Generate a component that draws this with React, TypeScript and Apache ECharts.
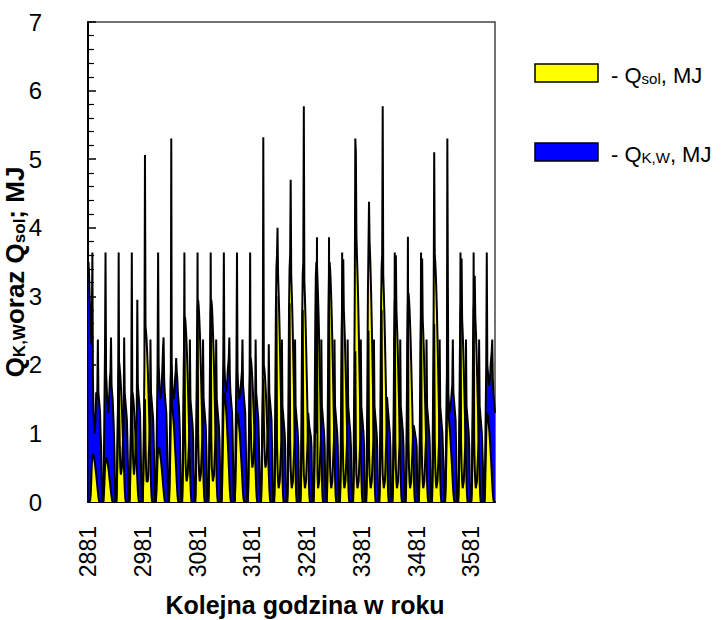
import React, { useEffect, useRef } from "react";
import * as echarts from "echarts";

// First hour shown on the axis (hour of the year)
const firstHour = 2881;

// Q_sol, MJ – solar gains, one row per day (hours 0..23)
const qSolDays: number[][] = [
  [0, 0, 0, 0, 0.02, 0.12, 0.32, 0.55, 0.66, 0.7, 0.68, 0.64, 0.6, 0.54, 0.47, 0.39, 0.32, 0.23, 0.15, 0.07, 0.02, 0, 0, 0],
  [0, 0, 0, 0, 0.02, 0.11, 0.29, 0.5, 0.62, 0.65, 0.63, 0.6, 0.55, 0.5, 0.44, 0.36, 0.29, 0.21, 0.14, 0.07, 0.02, 0, 0, 0],
  [0, 0, 0, 0, 0.06, 0.34, 0.9, 1.56, 1.9, 2.03, 1.94, 1.84, 1.7, 1.54, 1.34, 1.12, 0.9, 0.66, 0.42, 0.2, 0.06, 0, 0, 0],
  [0, 0, 0, 0, 0.05, 0.27, 0.72, 1.25, 1.52, 1.6, 1.55, 1.47, 1.36, 1.23, 1.07, 0.9, 0.72, 0.53, 0.34, 0.16, 0.05, 0, 0, 0],
  [0, 0, 0, 0, 0.08, 0.44, 1.15, 2.0, 5.06, 2.56, 2.48, 2.36, 2.18, 1.97, 1.72, 1.43, 1.15, 0.84, 0.54, 0.26, 0.08, 0, 0, 0],
  [0, 0, 0, 0, 0.02, 0.14, 0.36, 0.62, 0.76, 0.8, 0.78, 0.74, 0.68, 0.62, 0.54, 0.45, 0.36, 0.26, 0.17, 0.08, 0.02, 0, 0, 0],
  [0, 0, 0, 0, 0.04, 0.24, 0.63, 1.09, 5.3, 1.4, 1.36, 1.29, 1.19, 1.08, 0.94, 0.78, 0.63, 0.46, 0.29, 0.14, 0.04, 0, 0, 0],
  [0, 0, 0, 0, 0.08, 0.46, 1.22, 2.1, 2.57, 2.7, 2.62, 2.48, 2.3, 2.08, 1.81, 1.51, 1.22, 0.89, 0.57, 0.27, 0.08, 0, 0, 0],
  [0, 0, 0, 0, 0.09, 0.5, 1.33, 2.3, 2.8, 2.95, 2.86, 2.71, 2.51, 2.27, 1.98, 1.65, 1.33, 0.97, 0.62, 0.3, 0.09, 0, 0, 0],
  [0, 0, 0, 0, 0.09, 0.5, 1.33, 2.3, 2.8, 2.95, 2.88, 2.73, 2.5, 2.25, 1.96, 1.63, 1.3, 0.95, 0.6, 0.28, 0.08, 0, 0, 0],
  [0, 0, 0, 0, 0.05, 0.27, 0.72, 1.25, 1.52, 1.6, 1.55, 1.47, 1.36, 1.23, 1.07, 0.9, 0.72, 0.53, 0.34, 0.16, 0.05, 0, 0, 0],
  [0, 0, 0, 0, 0.04, 0.22, 0.59, 1.01, 1.24, 1.3, 1.26, 1.2, 1.1, 1.0, 0.87, 0.73, 0.59, 0.43, 0.27, 0.13, 0.04, 0, 0, 0],
  [0, 0, 0, 0, 0.06, 0.36, 0.95, 1.64, 2.0, 2.1, 2.04, 1.93, 1.79, 1.62, 1.41, 1.18, 0.95, 0.69, 0.44, 0.21, 0.06, 0, 0, 0],
  [0, 0, 0, 0, 0.06, 0.34, 0.9, 1.56, 5.32, 2.0, 1.94, 1.84, 1.7, 1.54, 1.34, 1.12, 0.9, 0.66, 0.42, 0.2, 0.06, 0, 0, 0],
  [0, 0, 0, 0, 0.11, 0.61, 1.62, 2.81, 3.42, 3.6, 4.0, 3.31, 3.06, 2.77, 2.41, 2.02, 1.62, 1.19, 0.76, 0.36, 0.11, 0, 0, 0],
  [0, 0, 0, 0, 0.11, 0.61, 1.62, 2.81, 3.42, 3.6, 4.7, 3.31, 3.06, 2.77, 2.41, 2.02, 1.62, 1.19, 0.76, 0.36, 0.11, 0, 0, 0],
  [0, 0, 0, 0, 0.1, 0.6, 1.58, 2.73, 3.33, 3.5, 5.77, 3.22, 2.98, 2.7, 2.35, 1.96, 1.58, 1.16, 0.74, 0.35, 0.1, 0, 0, 0],
  [0, 0, 0, 0, 0.1, 0.6, 1.58, 2.73, 3.33, 3.5, 3.45, 3.22, 2.98, 2.7, 2.35, 1.96, 1.58, 1.16, 0.74, 0.35, 0.1, 0, 0, 0],
  [0, 0, 0, 0, 0.1, 0.6, 1.58, 2.73, 3.33, 3.5, 3.4, 3.22, 2.98, 2.7, 2.35, 1.96, 1.58, 1.16, 0.74, 0.35, 0.1, 0, 0, 0],
  [0, 0, 0, 0, 0.09, 0.52, 1.37, 2.38, 2.9, 3.05, 3.54, 2.81, 2.59, 2.35, 2.04, 1.71, 1.37, 1.01, 0.64, 0.31, 0.09, 0, 0, 0],
  [0, 0, 0, 0, 0.12, 0.66, 1.76, 3.04, 5.3, 5.1, 3.9, 3.59, 3.32, 3.0, 2.61, 2.18, 1.76, 1.29, 0.82, 0.39, 0.12, 0, 0, 0],
  [0, 0, 0, 0, 0.12, 0.66, 1.76, 3.04, 3.7, 4.38, 3.8, 3.59, 3.32, 3.0, 2.61, 2.18, 1.76, 1.29, 0.82, 0.39, 0.12, 0, 0, 0],
  [0, 0, 0, 0, 0.11, 0.61, 1.62, 2.81, 3.42, 3.6, 5.77, 3.31, 3.06, 2.77, 2.41, 2.02, 1.62, 1.19, 0.76, 0.36, 0.11, 0, 0, 0],
  [0, 0, 0, 0, 0.09, 0.52, 1.37, 2.38, 2.9, 3.05, 3.6, 2.81, 2.59, 2.35, 2.04, 1.71, 1.37, 1.01, 0.64, 0.31, 0.09, 0, 0, 0],
  [0, 0, 0, 0, 0.09, 0.52, 1.37, 2.38, 2.9, 3.05, 2.96, 2.81, 2.59, 2.35, 2.04, 1.71, 1.37, 1.01, 0.64, 0.31, 0.09, 0, 0, 0],
  [0, 0, 0, 0, 0.09, 0.49, 1.31, 2.26, 2.76, 2.9, 3.55, 2.67, 2.47, 2.23, 1.94, 1.62, 1.31, 0.96, 0.61, 0.29, 0.09, 0, 0, 0],
  [0, 0, 0, 0, 0.11, 0.61, 1.62, 2.81, 5.1, 3.6, 3.49, 3.31, 3.06, 2.77, 2.41, 2.02, 1.62, 1.19, 0.76, 0.36, 0.11, 0, 0, 0],
  [0, 0, 0, 0, 0.04, 0.22, 0.59, 1.01, 5.3, 3.1, 1.3, 1.2, 1.1, 1.0, 0.87, 0.73, 0.59, 0.43, 0.27, 0.13, 0.04, 0, 0, 0],
  [0, 0, 0, 0, 0.09, 0.49, 1.31, 2.26, 2.76, 2.9, 3.55, 2.67, 2.47, 2.23, 1.94, 1.62, 1.31, 0.96, 0.61, 0.29, 0.09, 0, 0, 0],
  [0, 0, 0, 0, 0.09, 0.5, 1.33, 2.3, 2.8, 2.95, 3.3, 2.71, 2.51, 2.27, 1.98, 1.65, 1.33, 0.97, 0.62, 0.3, 0.09, 0, 0, 0],
  [0, 0, 0, 0, 0.04, 0.22, 0.59, 1.01, 1.24, 1.3, 1.26, 1.2, 1.1, 1.0, 0.87, 0.73, 0.59, 0.43, 0.27, 0.13, 0.04, 0, 0, 0],
];

// Q_K,W, MJ – heating, one row per day (hours 0..23)
const qKwDays: number[][] = [
  [3.4, 3.5, 3.3, 3.0, 2.8, 2.6, 2.3, 2.6, 3.64, 1.8, 1.3, 1.1, 1.0, 1.1, 1.3, 1.6, 1.5, 1.6, 2.37, 1.6, 1.5, 1.4, 1.3, 1.0],
  [0.8, 0.3, 0, 0, 0, 0.6, 1.4, 2.2, 3.64, 1.9, 1.7, 1.5, 1.4, 1.3, 1.4, 1.6, 1.8, 1.9, 2.4, 1.7, 1.6, 1.5, 1.3, 1.1],
  [0.8, 0.4, 0, 0, 0, 0.4, 0.9, 1.5, 3.64, 1.3, 0.8, 0.5, 0.4, 0.4, 0.5, 0.7, 0.9, 1.1, 2.4, 1.6, 1.5, 1.4, 1.3, 1.2],
  [0.9, 0.5, 0, 0, 0, 0.5, 1.0, 1.6, 3.64, 1.2, 0.7, 0.5, 0.4, 0.4, 0.6, 0.9, 1.1, 1.3, 2.95, 1.7, 1.6, 1.5, 1.4, 1.3],
  [0.9, 0.4, 0, 0, 0, 0.4, 0.8, 1.2, 1.5, 0.8, 0.5, 0.3, 0.3, 0.3, 0.4, 0.7, 0.9, 1.1, 2.37, 1.6, 1.5, 1.4, 1.3, 1.2],
  [0.9, 0.5, 0, 0, 0, 0.6, 1.3, 2.0, 3.64, 2.0, 1.8, 1.6, 1.5, 1.5, 1.6, 1.8, 2.0, 2.26, 2.4, 1.8, 1.6, 1.5, 1.4, 1.3],
  [1.0, 0.5, 0, 0, 0, 0.6, 1.2, 1.8, 2.0, 1.9, 1.7, 1.6, 1.5, 1.5, 1.6, 1.8, 1.9, 2.1, 1.9, 1.8, 1.6, 1.5, 1.4, 1.2],
  [0.9, 0.4, 0, 0, 0, 0.4, 1.0, 1.7, 3.64, 1.1, 0.6, 0.4, 0.3, 0.3, 0.4, 0.6, 0.8, 1.0, 2.37, 1.5, 1.4, 1.3, 1.2, 1.1],
  [0.9, 0.4, 0, 0, 0, 0.4, 0.9, 1.6, 3.64, 1.0, 0.6, 0.4, 0.3, 0.3, 0.4, 0.6, 0.8, 1.0, 2.37, 1.5, 1.4, 1.3, 1.2, 1.1],
  [0.8, 0.4, 0, 0, 0, 0.4, 0.9, 1.6, 3.64, 1.0, 0.5, 0.4, 0.3, 0.3, 0.4, 0.6, 0.8, 1.0, 2.37, 1.5, 1.4, 1.3, 1.2, 1.1],
  [0.9, 0.5, 0, 0, 0, 0.7, 1.4, 2.1, 3.64, 2.0, 1.8, 1.7, 1.6, 1.6, 1.7, 1.9, 2.0, 2.1, 2.4, 1.8, 1.6, 1.5, 1.4, 1.3],
  [1.0, 0.5, 0, 0, 0, 0.6, 1.3, 2.0, 3.64, 1.9, 1.7, 1.6, 1.5, 1.5, 1.6, 1.7, 1.8, 1.9, 2.37, 1.7, 1.6, 1.5, 1.4, 1.3],
  [0.9, 0.4, 0, 0, 0, 0.5, 1.1, 1.8, 3.64, 1.2, 0.8, 0.6, 0.5, 0.5, 0.6, 0.8, 1.0, 1.1, 2.37, 1.6, 1.5, 1.4, 1.3, 1.2],
  [0.9, 0.4, 0, 0, 0, 0.5, 1.0, 1.5, 1.8, 1.2, 0.8, 0.6, 0.5, 0.5, 0.6, 0.8, 1.0, 1.1, 2.3, 1.6, 1.5, 1.4, 1.3, 1.2],
  [0.8, 0.3, 0, 0, 0, 0.3, 0.8, 1.3, 3.0, 0.9, 0.5, 0.3, 0.2, 0.2, 0.3, 0.5, 0.7, 0.9, 2.37, 1.4, 1.3, 1.2, 1.1, 1.0],
  [0.8, 0.3, 0, 0, 0, 0.3, 0.8, 1.3, 2.9, 0.9, 0.5, 0.3, 0.2, 0.2, 0.3, 0.5, 0.7, 0.9, 2.37, 1.4, 1.3, 1.2, 1.1, 1.0],
  [0.8, 0.3, 0, 0, 0, 0.3, 0.8, 1.2, 2.8, 0.8, 0.4, 0.3, 0.2, 0.2, 0.3, 0.5, 0.7, 0.9, 1.3, 1.2, 1.1, 1.05, 1.0, 0.95],
  [0.8, 0.3, 0, 0, 0, 0.3, 0.8, 1.3, 2.0, 1.0, 3.86, 0.4, 0.2, 0.2, 0.3, 0.5, 0.7, 0.9, 2.37, 1.4, 1.3, 1.2, 1.1, 1.0],
  [0.8, 0.3, 0, 0, 0, 0.3, 0.8, 1.3, 3.86, 0.9, 0.5, 0.3, 0.2, 0.2, 0.3, 0.5, 0.7, 0.9, 2.37, 1.4, 1.3, 1.2, 1.1, 1.0],
  [0.8, 0.3, 0, 0, 0, 0.3, 0.8, 1.4, 3.64, 0.9, 0.5, 0.3, 0.2, 0.2, 0.3, 0.5, 0.7, 0.9, 2.37, 1.4, 1.3, 1.2, 1.1, 1.0],
  [0.8, 0.3, 0, 0, 0, 0.3, 0.7, 1.2, 2.2, 0.8, 0.4, 0.3, 0.2, 0.2, 0.3, 0.5, 0.7, 0.9, 2.37, 1.4, 1.3, 1.2, 1.1, 1.0],
  [0.8, 0.3, 0, 0, 0, 0.3, 0.7, 1.2, 2.5, 0.8, 0.4, 0.3, 0.2, 0.2, 0.3, 0.5, 0.7, 0.9, 2.37, 1.4, 1.3, 1.2, 1.1, 1.0],
  [0.8, 0.3, 0, 0, 0, 0.3, 0.8, 1.2, 2.8, 0.8, 0.4, 0.3, 0.2, 0.2, 0.3, 0.5, 0.8, 1.0, 1.53, 1.4, 1.3, 1.2, 1.1, 1.0],
  [0.8, 0.3, 0, 0, 0, 0.3, 0.8, 1.4, 3.64, 0.9, 0.5, 0.3, 0.2, 0.2, 0.3, 0.5, 0.7, 0.9, 2.37, 1.4, 1.3, 1.2, 1.1, 1.0],
  [0.8, 0.3, 0, 0, 0, 0.3, 0.8, 1.4, 3.87, 0.9, 0.5, 0.3, 0.2, 0.2, 0.3, 0.5, 0.7, 0.9, 1.12, 1.1, 1.05, 1.0, 0.95, 0.9],
  [0.8, 0.3, 0, 0, 0, 0.3, 0.8, 1.4, 3.64, 0.9, 0.5, 0.3, 0.2, 0.2, 0.3, 0.5, 0.7, 0.9, 2.37, 1.4, 1.3, 1.2, 1.1, 1.0],
  [0.8, 0.3, 0, 0, 0, 0.3, 0.8, 1.3, 2.6, 0.9, 0.5, 0.3, 0.2, 0.2, 0.3, 0.5, 0.7, 0.9, 2.37, 1.4, 1.3, 1.2, 1.1, 1.0],
  [1.0, 0.5, 0, 0, 0, 0.5, 1.1, 1.7, 2.0, 1.6, 1.5, 1.4, 1.3, 1.3, 1.4, 1.5, 1.6, 1.7, 2.37, 1.6, 1.5, 1.4, 1.3, 1.2],
  [0.8, 0.3, 0, 0, 0, 0.3, 0.8, 1.4, 3.64, 0.9, 0.5, 0.3, 0.2, 0.2, 0.3, 0.5, 0.7, 0.9, 2.37, 1.4, 1.3, 1.2, 1.1, 1.0],
  [0.8, 0.3, 0, 0, 0, 0.3, 0.8, 1.4, 3.64, 0.9, 0.5, 0.3, 0.2, 0.2, 0.3, 0.5, 0.7, 0.9, 2.37, 1.4, 1.3, 1.2, 1.1, 1.0],
  [1.0, 0.5, 0, 0, 0, 0.6, 1.3, 2.0, 3.64, 2.0, 1.9, 1.8, 1.7, 1.7, 1.8, 2.0, 2.1, 2.2, 2.37, 1.8, 1.6, 1.5, 1.4, 1.3],
];

const yMin = 0;
const yMax = 7;
const yStep = 1;
const xLabelEvery = 100;

const FONT = '"Liberation Sans", Arial, sans-serif';

export default function App() {
  const ref = useRef<HTMLDivElement>(null);

  useEffect(() => {
    if (!ref.current) return;
    const chart = echarts.init(ref.current, undefined, { renderer: "svg" });

    const qSol = qSolDays.flat();
    const qKw = qKwDays.flat();
    const hours = qSol.map((_, i) => String(firstHour + i));

    const option: any = {
      animation: false,
      backgroundColor: "#fff",
      grid: {
        left: 88,
        right: 233,
        top: 22,
        bottom: 118,
        show: true,
        borderColor: "#444",
        borderWidth: 1.5,
        backgroundColor: "transparent",
      },
      xAxis: {
        type: "category",
        data: hours,
        boundaryGap: false,
        axisLine: { show: true, lineStyle: { color: "#000", width: 2 } },
        axisTick: { show: false },
        splitLine: { show: false },
        axisLabel: {
          interval: xLabelEvery - 1,
          rotate: 90,
          fontSize: 23,
          fontFamily: FONT,
          color: "#000",
          margin: 24,
        },
      },
      yAxis: {
        type: "value",
        min: yMin,
        max: yMax,
        interval: yStep,
        axisLine: { show: true, lineStyle: { color: "#000", width: 2 } },
        axisTick: { show: true, inside: true, length: 8, lineStyle: { color: "#000", width: 1.5 } },
        minorTick: { show: true, splitNumber: 5, length: 6, lineStyle: { color: "#000", width: 1.2 } },
        splitLine: { show: false },
        axisLabel: { fontSize: 24, fontFamily: FONT, color: "#000", margin: 46 },
      },
      series: [
        {
          name: "Q_K,W",
          type: "line",
          data: qKw,
          symbol: "none",
          lineStyle: { color: "#000", width: 2 },
          areaStyle: { color: "#0000FF", opacity: 1 },
        },
        {
          name: "Q_sol",
          type: "line",
          data: qSol,
          symbol: "none",
          lineStyle: { color: "#000", width: 2 },
          areaStyle: { color: "#FFFF00", opacity: 1 },
        },
      ],
      graphic: [
        {
          type: "text",
          x: 13,
          y: 272,
          rotation: Math.PI / 2,
          style: {
            text: "{a|Q}{b|K,W}{a|oraz Q}{b|sol}{a|; MJ}",
            align: "center",
            verticalAlign: "middle",
            rich: {
              a: { fontSize: 26, fontWeight: "bold", fontFamily: FONT, fill: "#000", lineHeight: 30, verticalAlign: "bottom" },
              b: { fontSize: 17, fontWeight: "bold", fontFamily: FONT, fill: "#000", lineHeight: 17, verticalAlign: "bottom" },
            },
          },
        },
        {
          type: "text",
          x: 305,
          y: 605,
          style: {
            text: "Kolejna godzina w roku",
            fontSize: 25,
            fontWeight: "bold",
            fontFamily: FONT,
            fill: "#000",
            align: "center",
            verticalAlign: "middle",
          },
        },
        {
          type: "rect",
          shape: { x: 535, y: 64, width: 63, height: 18 },
          style: { fill: "#FFFF00", stroke: "#000", lineWidth: 1.5 },
        },
        {
          type: "rect",
          shape: { x: 535, y: 143, width: 63, height: 18 },
          style: { fill: "#0000FF", stroke: "#000", lineWidth: 1.5 },
        },
        {
          type: "text",
          x: 611,
          y: 73,
          style: {
            text: "{a|- Q}{b|sol}{a|, MJ}",
            verticalAlign: "middle",
            rich: {
              a: { fontSize: 22, fontFamily: FONT, fill: "#000", lineHeight: 26, verticalAlign: "bottom" },
              b: { fontSize: 15, fontFamily: FONT, fill: "#000", lineHeight: 15, verticalAlign: "bottom" },
            },
          },
        },
        {
          type: "text",
          x: 611,
          y: 152,
          style: {
            text: "{a|- Q}{b|K,W}{a|, MJ}",
            verticalAlign: "middle",
            rich: {
              a: { fontSize: 22, fontFamily: FONT, fill: "#000", lineHeight: 26, verticalAlign: "bottom" },
              b: { fontSize: 15, fontFamily: FONT, fill: "#000", lineHeight: 15, verticalAlign: "bottom" },
            },
          },
        },
      ],
    };

    chart.setOption(option);
    return () => chart.dispose();
  }, []);

  return (
    <div
      ref={ref}
      style={{ position: "absolute", left: 0, top: 0, width: 728, height: 620 }}
    />
  );
}
